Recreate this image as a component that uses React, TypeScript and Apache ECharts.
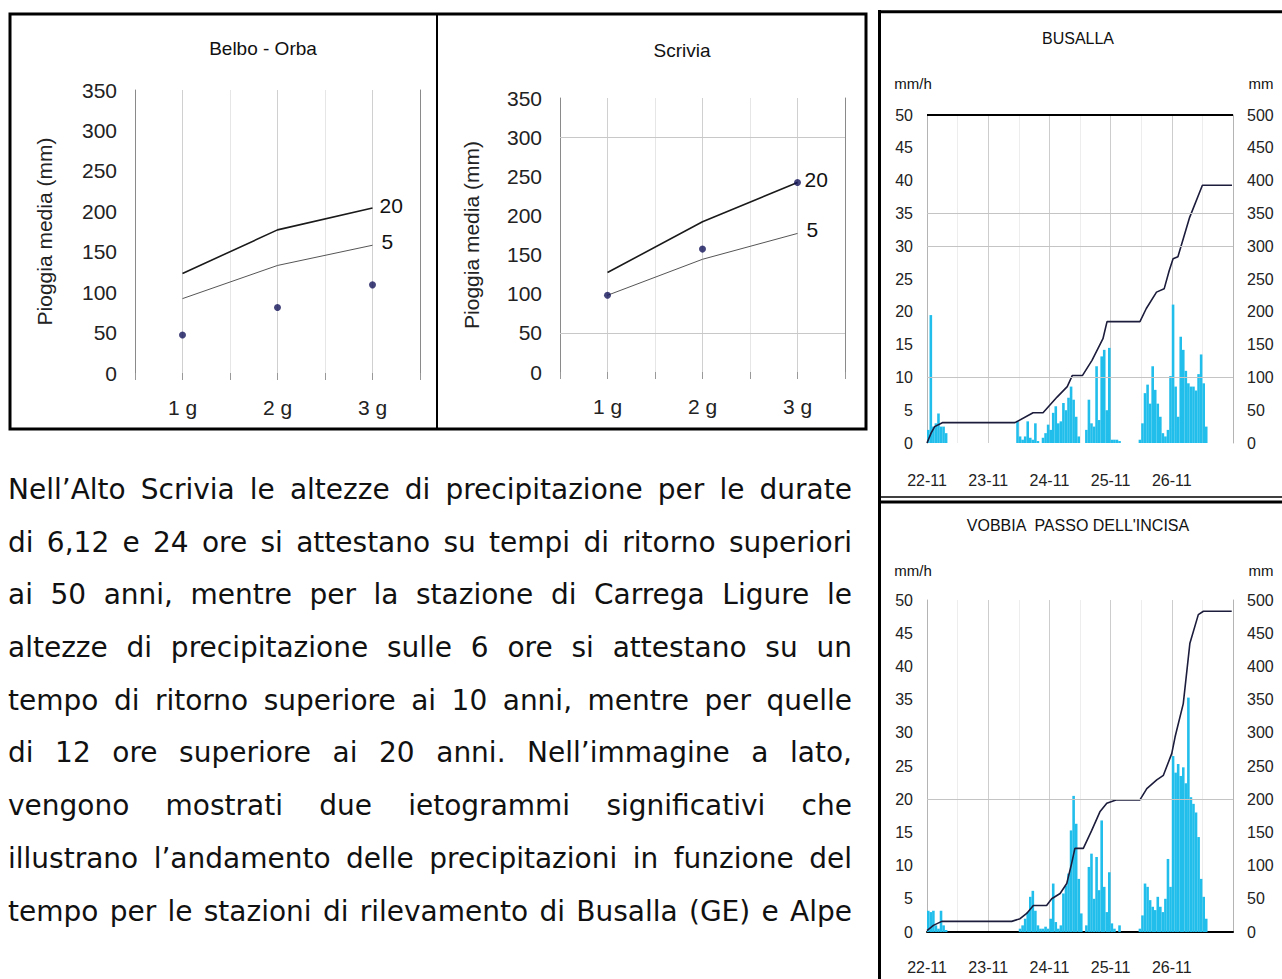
import React, { useEffect, useRef } from "react";
import * as echarts from "echarts";

// ---------- data ----------
const durations = ["1 g", "2 g", "3 g"];
const durationPos = [0.5, 1.5, 2.5];

const belbo20 = [123, 177, 204];
const belbo5 = [92, 133, 158];
const belboObserved = [47, 81, 109];

const scrivia20 = [127, 192, 242];
const scrivia5 = [98, 144, 177];
const scriviaObserved = [98, 157, 242];

const dayLabels = ["22-11", "23-11", "24-11", "25-11", "26-11"];

// hourly rainfall (mm/h), hour 0 = 22-11 00:00
const busallaHourly = [
  2.0, 19.5, 2.5, 3.0, 4.5, 2.5, 2.5, 1.5, 0, 0, 0, 0,
  0, 0, 0, 0, 0, 0, 0, 0, 0, 0, 0, 0,
  0, 0, 0, 0, 0, 0, 0, 0, 0, 0, 0, 3.3,
  1.0, 0.5, 1.0, 3.3, 0.8, 0.5, 3.0, 0.3, 0, 0.8, 1.5, 2.8,
  2.0, 4.6, 5.6, 3.0, 3.3, 6.1, 5.0, 6.9, 8.6, 6.6, 4.0, 1.0,
  0, 0, 2.0, 6.6, 3.0, 2.5, 11.7, 3.5, 13.2, 14.2, 5.0, 14.5,
  0.5, 0.5, 0.5, 0.3, 0, 0, 0, 0, 0, 0, 0, 0.5,
  3.0, 7.6, 8.9, 6.0, 11.7, 8.1, 6.0, 4.0, 1.5, 1.0, 2.0, 10.2,
  21.1, 8.6, 4.0, 16.2, 14.2, 11.0, 9.1, 8.6, 8.6, 8.0, 10.5, 13.5,
  9.1, 2.5, 0, 0, 0, 0, 0, 0, 0, 0, 0, 0,
];

const vobbiaHourly = [
  3.2, 3.0, 3.2, 1.0, 0.5, 3.2, 1.0, 0.3, 0, 0, 0, 0,
  0, 0, 0, 0, 0, 0, 0, 0, 0, 0, 0, 0,
  0, 0, 0, 0, 0, 0, 0, 0, 0, 0, 0, 0,
  0.5, 1.0, 2.0, 3.0, 5.3, 6.2, 3.2, 1.0, 0.5, 0.5, 0.8, 0.5,
  2.0, 7.3, 1.5, 0.5, 1.0, 5.8, 7.0, 8.8, 15.3, 20.5, 16.3, 8.0,
  2.8, 0, 1.0, 9.8, 11.8, 5.0, 11.3, 6.3, 16.8, 6.8, 3.0, 9.0,
  1.3, 0.5, 0, 1.0, 0, 0, 0, 0, 0, 0, 0, 0.5,
  2.5, 7.3, 6.8, 4.8, 3.8, 3.3, 5.3, 3.8, 3.0, 5.0, 11.0, 6.8,
  26.5, 24.0, 25.3, 23.5, 24.8, 22.4, 35.3, 20.3, 19.3, 18.0, 14.3, 8.0,
  5.3, 2.0, 0, 0, 0, 0, 0, 0, 0, 0, 0, 0,
];

// cumulative rainfall (mm)
const busallaCumHours = [0, 1.6, 3, 6, 34.5, 41.6, 45.5, 51, 55, 57, 61, 64.7, 69, 70.6, 83.5, 86, 90, 93, 95, 96.5, 98.4, 103, 108, 119.6];
const busallaCumMm = [0, 15, 25, 31, 31, 46, 46, 70, 86, 103, 103, 126, 159, 185, 185, 205, 230, 235, 263, 281, 284, 344, 393, 393];

const vobbiaCumHours = [0, 2.5, 5.8, 33.2, 36.5, 39.1, 41.7, 46.9, 48.9, 52.2, 54.8, 56.7, 58, 61.3, 64.6, 67.8, 70.5, 74.4, 83.5, 86.2, 90.1, 92.7, 96, 97.3, 100.5, 103.1, 106.4, 108.4, 119.5];
const vobbiaCumMm = [2, 10, 16, 16, 20, 28, 40, 40, 50, 58, 73, 103, 126, 126, 153, 181, 194, 199, 199, 216, 229, 236, 269, 294, 344, 435, 478, 483, 483];

const paragraphLines = [
  "Nell’Alto Scrivia le altezze di precipitazione per le durate",
  "di 6,12 e 24 ore si attestano su tempi di ritorno superiori",
  "ai 50 anni, mentre per la stazione di Carrega Ligure le",
  "altezze di precipitazione sulle 6 ore si attestano su un",
  "tempo di ritorno superiore ai 10 anni, mentre per quelle",
  "di 12 ore superiore ai 20 anni. Nell’immagine a lato,",
  "vengono mostrati due ietogrammi significativi che",
  "illustrano l’andamento delle precipitazioni in funzione del",
  "tempo per le stazioni di rilevamento di Busalla (GE) e Alpe",
];

// ---------- helpers ----------
const FONT = "'Liberation Sans', Arial, sans-serif";
const NARROW = "'Liberation Sans Narrow', 'Liberation Sans', Arial, sans-serif";
const BAR_COLOR = "#22BEEB";
const CUM_COLOR = "#1c1c3c";

const pairs = (xs: number[], ys: number[]) => xs.map((x, i) => [x, ys[i]]);
const durationFmt = (v: number) => {
  const i = durationPos.indexOf(v);
  return i >= 0 ? durations[i] : "";
};
const dayFmt = (v: number) =>
  v % 24 === 0 && v / 24 < dayLabels.length ? dayLabels[v / 24] : "";

function idfX(gridIndex: number) {
  return {
    gridIndex,
    type: "value",
    min: 0,
    max: 3,
    interval: 0.5,
    axisLine: { show: false },
    axisTick: { show: true, length: 7, lineStyle: { color: "#999" } },
    axisLabel: { formatter: durationFmt, fontSize: 21, color: "#222", margin: 24, fontFamily: FONT },
    splitLine: { show: true, lineStyle: { color: ["#e6e6e6", "#d0d0d0"], width: 1 } },
  };
}
function idfYLeft(gridIndex: number, nameGap: number) {
  return {
    gridIndex,
    type: "value",
    min: 0,
    max: 350,
    interval: 50,
    axisLine: { show: true, lineStyle: { color: "#8a8a8a", width: 1 } },
    axisTick: { show: false },
    splitLine: { show: false },
    axisLabel: { fontSize: 21, color: "#222", margin: 18, fontFamily: FONT },
    name: "Pioggia media (mm)",
    nameLocation: "middle",
    nameGap,
    nameRotate: 90,
    nameTextStyle: { fontSize: 21, color: "#222", fontFamily: FONT },
  };
}
function idfYRight(gridIndex: number) {
  return {
    gridIndex,
    type: "value",
    position: "right",
    min: 0,
    max: 350,
    interval: 50,
    axisLine: { show: true, lineStyle: { color: "#8a8a8a", width: 1 } },
    axisTick: { show: false },
    axisLabel: { show: false },
    splitLine: { show: false },
  };
}
function hyetoX(gridIndex: number, baseLine: boolean, margin: number) {
  return {
    gridIndex,
    type: "value",
    min: 0,
    max: 120,
    interval: 12,
    axisLine: { show: baseLine, lineStyle: { color: "#000", width: 2 } },
    axisTick: { show: false },
    axisLabel: { formatter: dayFmt, fontSize: 16, color: "#222", margin, fontFamily: NARROW },
    splitLine: { show: true, lineStyle: { color: ["#cdcdcd", "#ededed"], width: 1 } },
  };
}
function hyetoY(gridIndex: number, right: boolean) {
  return {
    gridIndex,
    type: "value",
    position: right ? "right" : "left",
    min: 0,
    max: right ? 500 : 50,
    interval: right ? 50 : 5,
    axisLine: { show: true, lineStyle: { color: "#b4b4b4", width: 1 } },
    axisTick: { show: false },
    splitLine: { show: false },
    axisLabel: { fontSize: 16, color: "#222", margin: 14, fontFamily: NARROW },
  };
}
function idfSeries(xIdx: number, yIdx: number, t20: number[], t5: number[], obs: number[], gridLines: number[]) {
  return [
    {
      type: "line",
      name: "T = 20 anni",
      xAxisIndex: xIdx,
      yAxisIndex: yIdx,
      data: pairs(durationPos, t20),
      symbol: "none",
      lineStyle: { color: "#1a1a1a", width: 1.6 },
      endLabel: { show: true, formatter: "20", fontSize: 21, color: "#111", distance: 7, offset: [0, -3], fontFamily: FONT },
      markLine: gridLines.length
        ? {
            silent: true,
            symbol: ["none", "none"],
            label: { show: false },
            lineStyle: { color: "#c8c8c8", width: 1, type: "solid" },
            data: gridLines.map((v) => ({ yAxis: v })),
          }
        : undefined,
      z: 3,
    },
    {
      type: "line",
      name: "T = 5 anni",
      xAxisIndex: xIdx,
      yAxisIndex: yIdx,
      data: pairs(durationPos, t5),
      symbol: "none",
      lineStyle: { color: "#555", width: 1 },
      endLabel: { show: true, formatter: "5", fontSize: 21, color: "#111", distance: 9, offset: [0, -4], fontFamily: FONT },
      z: 3,
    },
    {
      type: "scatter",
      name: "Pioggia osservata",
      xAxisIndex: xIdx,
      yAxisIndex: yIdx,
      data: pairs(durationPos, obs),
      symbolSize: 7,
      itemStyle: { color: "#14145a" },
      z: 4,
    },
  ];
}
function hyetoSeries(xIdx: number, yLeft: number, yRight: number, hourly: number[], cumH: number[], cumMm: number[], lines: any[]) {
  return [
    {
      type: "bar",
      name: "mm/h",
      xAxisIndex: xIdx,
      yAxisIndex: yLeft,
      data: hourly.map((v, i) => [i + 0.5, v]),
      barWidth: 2.6,
      itemStyle: { color: BAR_COLOR },
      markLine: {
        silent: true,
        symbol: ["none", "none"],
        label: { show: false },
        lineStyle: { color: "#c4c4c4", width: 1, type: "solid" },
        data: lines,
      },
    },
    {
      type: "line",
      name: "mm",
      xAxisIndex: xIdx,
      yAxisIndex: yRight,
      data: pairs(cumH, cumMm),
      symbol: "none",
      lineStyle: { color: CUM_COLOR, width: 1.6 },
      z: 4,
    },
  ];
}

function txt(text: string, x: number, y: number, size: number, family = FONT) {
  return {
    type: "text",
    x,
    y,
    silent: true,
    style: { text, fill: "#111", fontSize: size, fontFamily: family, align: "center", verticalAlign: "middle" },
  };
}
function ln(x1: number, y1: number, x2: number, y2: number, w: number) {
  return { type: "line", silent: true, shape: { x1, y1, x2, y2 }, style: { stroke: "#000", lineWidth: w } };
}

export default function App() {
  const ref = useRef<HTMLDivElement>(null);

  useEffect(() => {
    if (!ref.current) return;
    const chart = echarts.init(ref.current, null, { renderer: "svg" });
    const option: any = {
      animation: false,
      backgroundColor: "#fff",
      grid: [
        { left: 135, top: 90, width: 285, height: 283 },
        { left: 560, top: 98, width: 285, height: 274 },
        { left: 927, top: 115, width: 306, height: 328 },
        { left: 927, top: 600, width: 306, height: 332 },
      ],
      xAxis: [idfX(0), idfX(1), hyetoX(2, false, 29), hyetoX(3, true, 27)],
      yAxis: [
        idfYLeft(0, 80),
        idfYRight(0),
        idfYLeft(1, 78),
        idfYRight(1),
        hyetoY(2, false),
        hyetoY(2, true),
        hyetoY(3, false),
        hyetoY(3, true),
      ],
      series: [
        ...idfSeries(0, 0, belbo20, belbo5, belboObserved, []),
        ...idfSeries(1, 2, scrivia20, scrivia5, scriviaObserved, [300, 50]),
        ...hyetoSeries(2, 4, 5, busallaHourly, busallaCumHours, busallaCumMm, [
          { yAxis: 50, lineStyle: { color: "#000", width: 2 } },
          { yAxis: 35 },
          { yAxis: 30 },
          { yAxis: 10 },
        ]),
        ...hyetoSeries(3, 6, 7, vobbiaHourly, vobbiaCumHours, vobbiaCumMm, [{ yAxis: 20 }]),
      ],
      graphic: [
        // frames
        {
          type: "rect",
          silent: true,
          shape: { x: 10, y: 14, width: 856, height: 415 },
          style: { fill: "none", stroke: "#000", lineWidth: 3 },
        },
        ln(437, 14, 437, 429, 2),
        ln(879.5, 10, 879.5, 979, 3),
        ln(878, 11.7, 1282, 11.7, 3),
        ln(878, 497, 1282, 497, 1.5),
        ln(878, 502, 1282, 502, 3),
        // titles and unit labels
        txt("Belbo - Orba", 263, 48, 19),
        txt("Scrivia", 682, 50, 19),
        txt("BUSALLA", 1078, 38, 16, NARROW),
        txt("VOBBIA  PASSO DELL'INCISA", 1078, 525, 16, NARROW),
        txt("mm/h", 913, 83, 15, NARROW),
        txt("mm", 1261, 83, 15, NARROW),
        txt("mm/h", 913, 570, 15, NARROW),
        txt("mm", 1261, 570, 15, NARROW),
      ],
    };
    chart.setOption(option);
    return () => chart.dispose();
  }, []);

  return (
    <div style={{ position: "absolute", left: 0, top: 0, width: 1282, height: 979, overflow: "hidden", background: "#fff" }}>
      <div ref={ref} style={{ position: "absolute", left: 0, top: 0, width: 1282, height: 979 }} />
      <div
        style={{
          position: "absolute",
          left: 8,
          top: 464,
          width: 844,
          fontFamily: "'DejaVu Sans', sans-serif",
          fontSize: 28,
          color: "#111",
        }}
      >
        {paragraphLines.map((line, i) => (
          <div
            key={i}
            style={{
              display: "flex",
              justifyContent: "space-between",
              height: 52.7,
              lineHeight: "52.7px",
              whiteSpace: "pre",
            }}
          >
            {line.split(" ").map((w, j) => (
              <span key={j}>{w}</span>
            ))}
          </div>
        ))}
      </div>
    </div>
  );
}
